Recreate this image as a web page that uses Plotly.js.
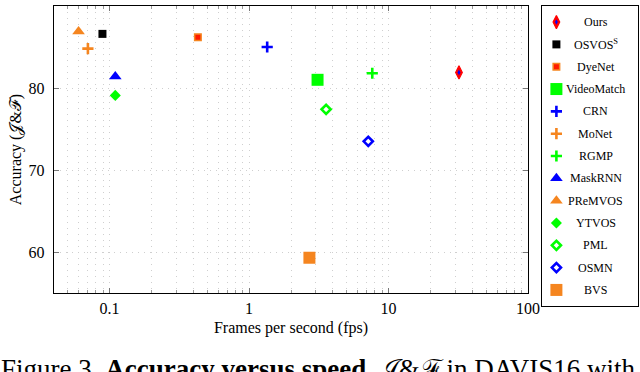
<!DOCTYPE html>
<html><head><meta charset="utf-8">
<script src="https://cdn.plot.ly/plotly-3.0.1.min.js"></script>
<style>html,body{margin:0;padding:0;background:#fff}</style>
</head><body><div id="chart" style="width:640px;height:372px"></div>
<script>
// ---- data ----
const methods  = ['Ours','OSVOS<sup>S</sup>','DyeNet','VideoMatch','CRN','MoNet','RGMP','MaskRNN','PReMVOS','YTVOS','PML','OSMN','BVS'];
const fps      = [32, 0.089, 0.43, 3.1, 1.35, 0.07, 7.65, 0.11, 0.06, 0.11, 3.57, 7.16, 2.71];
const accuracy = [81.9, 86.6, 86.2, 81.0, 85.0, 84.8, 81.8, 81.4, 86.9, 79.1, 77.4, 73.5, 59.3];
const xTickVals   = [0.1, 1, 10, 100];
const xTickLabels = ['0.1', '1', '10', '100'];
const yTickVals   = [60, 70, 80, 90];
const yTickLabels = ['60', '70', '80', '90'];

// ---- styles ----
const ORANGE = '#f5851f', GREEN = '#00ff00', BLUE = '#0000ff', RED = '#ff0000';
const symbols = ['diamond-tall','square','square','square','cross-thin-open','cross-thin-open','cross-thin-open','triangle-up','triangle-up','diamond','diamond-open','diamond-open','square'];
const colors  = [RED,'#000000','#ff1a00',GREEN,BLUE,ORANGE,GREEN,BLUE,ORANGE,GREEN,GREEN,BLUE,ORANGE];
const lineCol = [RED,'#000000',ORANGE,GREEN,BLUE,ORANGE,GREEN,BLUE,ORANGE,GREEN,GREEN,BLUE,ORANGE];
const sizes   = [9.5, 8, 6.5, 12, 8, 8, 8, 11, 11, 8.5, 7, 7, 12];
const lineW   = [1.2, 0, 1.5, 0, 2.6, 2.6, 2.6, 0, 0, 0, 2.6, 2.6, 0];

const FONT = 'Liberation Serif, Times New Roman, serif';
const GRIDC = '#cfcfcf', DASH = '1px,5px';

const minorVals = [];
[0.01, 0.1, 1, 10].forEach(d => { for (let k = 2; k <= 9; k++) { const v = k*d; if (v >= 0.04 && v < 100) minorVals.push(v); } });

const legendIdx = methods.map((_, i) => i);
const markerSpec = {symbol: symbols, color: colors, size: sizes, opacity: 1, line: {color: lineCol, width: lineW}};

const traces = [
  {x: fps, y: accuracy, type: 'scatter', mode: 'markers', xaxis: 'x', yaxis: 'y', opacity: 1, marker: markerSpec},
  {x: [fps[0]], y: [accuracy[0]], type: 'scatter', mode: 'markers', xaxis: 'x', yaxis: 'y', opacity: 1,
   marker: {symbol: 'diamond-tall', color: BLUE, size: 4, opacity: 1}},
  // legend markers
  {x: legendIdx.map(() => 0.15), y: legendIdx, type: 'scatter', mode: 'markers', xaxis: 'x2', yaxis: 'y2', opacity: 1, marker: markerSpec},
  {x: [0.15], y: [0], type: 'scatter', mode: 'markers', xaxis: 'x2', yaxis: 'y2', opacity: 1,
   marker: {symbol: 'diamond-tall', color: BLUE, size: 4, opacity: 1}}
];

const PW = 584, PH = 300, L = 54, T = 6;
const px = v => (v - L) / PW;
const py = v => (T + PH - v) / PH;

const annotations = methods.map((m, i) => ({
  xref: 'x2', yref: 'y2', x: 0.56, y: i, text: m, showarrow: false,
  xanchor: 'center', yanchor: 'middle', font: {family: FONT, size: 12, color: '#000'}
}));
annotations.push({
  xref: 'paper', yref: 'paper', x: px(-1), y: py(352), xanchor: 'left', yanchor: 'top', showarrow: false,
  text: 'Figure 3. <b>Accuracy versus speed.</b> 𝒥&amp;ℱ in DAVIS16 with',
  font: {family: FONT, size: 27, color: '#000'}
});

const layout = {
  width: 640, height: 372,
  margin: {l: L, r: 2, t: T, b: 66},
  paper_bgcolor: '#fff', plot_bgcolor: '#fff',
  showlegend: false,
  font: {family: FONT, color: '#000'},
  xaxis: {
    type: 'log', domain: [0, px(528)], range: [Math.log10(0.04), 2],
    tickmode: 'array', tickvals: xTickVals, ticktext: xTickLabels,
    ticks: 'inside', ticklen: 5, tickwidth: 1, tickcolor: '#777',
    showline: true, linecolor: '#000', linewidth: 1.3, mirror: 'ticks',
    showgrid: true, gridcolor: GRIDC, griddash: DASH, gridwidth: 1, zeroline: false,
    tickfont: {family: FONT, size: 16, color: '#000'},
    minor: {tickmode: 'array', tickvals: minorVals, ticks: 'inside', ticklen: 3, tickcolor: '#999',
            showgrid: true, gridcolor: GRIDC, griddash: DASH, gridwidth: 1},
    title: {text: 'Frames per second (fps)', font: {family: FONT, size: 16, color: '#000'}, standoff: 6},
    fixedrange: true
  },
  yaxis: {
    domain: [py(293), 1], range: [55, 90],
    tickmode: 'array', tickvals: yTickVals, ticktext: yTickLabels,
    ticks: 'inside', ticklen: 5, tickwidth: 1, tickcolor: '#777',
    showline: true, linecolor: '#000', linewidth: 1.3, mirror: 'ticks',
    showgrid: true, gridcolor: GRIDC, griddash: DASH, gridwidth: 1, zeroline: false,
    tickfont: {family: FONT, size: 16, color: '#000'}, ticklabelstandoff: 5,
    title: {text: 'Accuracy (𝒥&amp;ℱ)', font: {family: FONT, size: 16, color: '#000'}, standoff: 3},
    fixedrange: true
  },
  xaxis2: {domain: [px(542), 1], range: [0, 1], anchor: 'y2', showgrid: false, zeroline: false,
           showticklabels: false, ticks: '', showline: true, linecolor: '#000', linewidth: 1, mirror: true, fixedrange: true},
  yaxis2: {domain: [0, 1], range: [12.72, -0.72], anchor: 'x2', showgrid: false, zeroline: false,
           showticklabels: false, ticks: '', showline: true, linecolor: '#000', linewidth: 1, mirror: true, fixedrange: true},
  annotations: annotations
};

Plotly.newPlot('chart', traces, layout, {displayModeBar: false, staticPlot: true});
</script></body></html>
